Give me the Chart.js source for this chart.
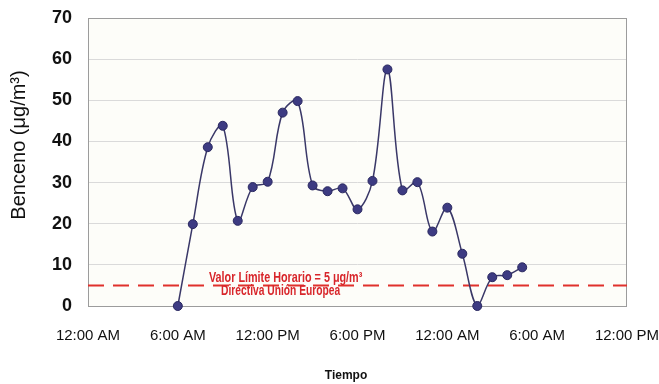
<!DOCTYPE html>
<html>
<head>
<meta charset="utf-8">
<script src="https://cdn.jsdelivr.net/npm/chart.js@4.4.1/dist/chart.umd.min.js"></script>
<style>
    html, body { margin: 0; padding: 0; background: #ffffff; }
    #wrap { width: 659px; height: 384px; position: relative; }
</style>
</head>
<body>
<div id="wrap"><canvas id="chart"></canvas></div>
<script>
// Hourly benzene readings (hours from the first midnight)
const hours = [6, 7, 8, 9, 10, 11, 12, 13, 14, 15, 16, 17, 18, 19, 20, 21, 22, 23, 24, 25, 26, 27, 28, 29];
const benzene = [0, 19.9, 38.6, 43.8, 20.7, 28.9, 30.2, 47.0, 49.8, 29.3, 27.9, 28.6, 23.5, 30.4, 57.5, 28.1, 30.1, 18.1, 23.9, 12.7, 0, 7.0, 7.5, 9.4];

// EU hourly limit value
const limitValue = 5;
const limitLabel = ['Valor Límite Horario = 5 μg/m³', 'Directiva Unión Europea'];

// Axis ticks
const timeTicks = ['12:00 AM', '6:00 AM', '12:00 PM', '6:00 PM', '12:00 AM', '6:00 AM', '12:00 PM'];
const yTitle = 'Benceno (μg/m³)';
const xTitle = 'Tiempo';

const points = hours.map((h, i) => ({ x: h, y: benzene[i] }));
const limitLine = [{ x: 0, y: limitValue }, { x: 36, y: limitValue }];

// Plot frame, background and hand placed titles
const framePlugin = {
    id: 'frame',
    beforeDraw(chart) {
        const { ctx, chartArea: a } = chart;
        ctx.save();
        ctx.fillStyle = '#fdfdf9';
        ctx.fillRect(a.left, a.top, a.right - a.left, a.bottom - a.top);
        ctx.restore();
    },
    beforeDatasetsDraw(chart) {
        const { ctx, chartArea: a } = chart;
        ctx.save();
        ctx.strokeStyle = '#9c9c9c';
        ctx.lineWidth = 1;
        ctx.strokeRect(a.left + 0.5, a.top + 0.5, a.right - a.left - 1, a.bottom - a.top);
        ctx.restore();
    },
    afterDraw(chart) {
        const { ctx, scales } = chart;
        ctx.save();
        // y title
        ctx.fillStyle = '#111111';
        ctx.font = '20px "Liberation Sans", Arial, sans-serif';
        ctx.textAlign = 'center';
        ctx.textBaseline = 'middle';
        ctx.translate(19, 145);
        ctx.rotate(-Math.PI / 2);
        ctx.fillText(yTitle, 0, 0);
        ctx.restore();

        // x title
        ctx.save();
        ctx.fillStyle = '#111111';
        ctx.font = 'bold 12px "Liberation Sans", Arial, sans-serif';
        ctx.textAlign = 'center';
        ctx.textBaseline = 'middle';
        ctx.fillText(xTitle, 346, 376);
        ctx.restore();

        // limit annotation
        const lx = scales.x.getPixelForValue(13);
        const ly = scales.y.getPixelForValue(limitValue);
        ctx.save();
        ctx.fillStyle = '#d8262b';
        ctx.font = 'bold 15px "Liberation Sans", Arial, sans-serif';
        ctx.textAlign = 'center';
        ctx.textBaseline = 'middle';
        ctx.translate(lx + 3, ly);
        ctx.scale(0.72, 1);
        ctx.fillText(limitLabel[0], 0, -8);
        ctx.translate(-5 / 0.72, 0);
        ctx.scale(0.95, 1);
        ctx.fillText(limitLabel[1], 0, 5);
        ctx.restore();
    }
};

new Chart(document.getElementById('chart'), {
    type: 'line',
    data: {
        datasets: [{
            label: 'Benceno',
            data: points,
            borderColor: '#3a3868',
            borderWidth: 1.5,
            backgroundColor: '#3d3b82',
            pointBackgroundColor: '#3d3b82',
            pointBorderColor: '#2a2860',
            pointBorderWidth: 1,
            pointRadius: 4.5,
            tension: 0.35,
            clip: false,
            order: 1
        }, {
            label: 'Límite',
            data: limitLine,
            borderColor: '#e0312c',
            borderWidth: 2,
            borderDash: [16, 9],
            pointRadius: 0,
            tension: 0,
            order: 2
        }]
    },
    options: {
        responsive: true,
        maintainAspectRatio: false,
        animation: false,
        layout: { padding: { top: 18, right: 32, bottom: 0, left: 0 } },
        plugins: {
            legend: { display: false },
            tooltip: { enabled: false }
        },
        scales: {
            x: {
                type: 'linear',
                min: 0,
                max: 36,
                afterFit(scale) {
                    scale.height = 78;
                    scale.paddingLeft = 0;
                    scale.paddingRight = 0;
                },
                grid: { display: false, drawTicks: false },
                border: { display: false },
                ticks: {
                    stepSize: 6,
                    padding: 21,
                    maxRotation: 0,
                    color: '#111111',
                    font: { family: '"Liberation Sans", Arial, sans-serif', size: 15 },
                    callback: (v) => timeTicks[v / 6]
                }
            },
            y: {
                min: 0,
                max: 70,
                afterFit(scale) {
                    scale.width = 88;
                    scale.paddingTop = 0;
                    scale.paddingBottom = 0;
                },
                grid: { color: '#dadada', lineWidth: 1, drawTicks: false },
                border: { display: false },
                ticks: {
                    stepSize: 10,
                    padding: 16,
                    color: '#111111',
                    font: { family: '"Liberation Sans", Arial, sans-serif', size: 18, weight: 'bold' }
                }
            }
        }
    },
    plugins: [framePlugin]
});
</script>
</body>
</html>
